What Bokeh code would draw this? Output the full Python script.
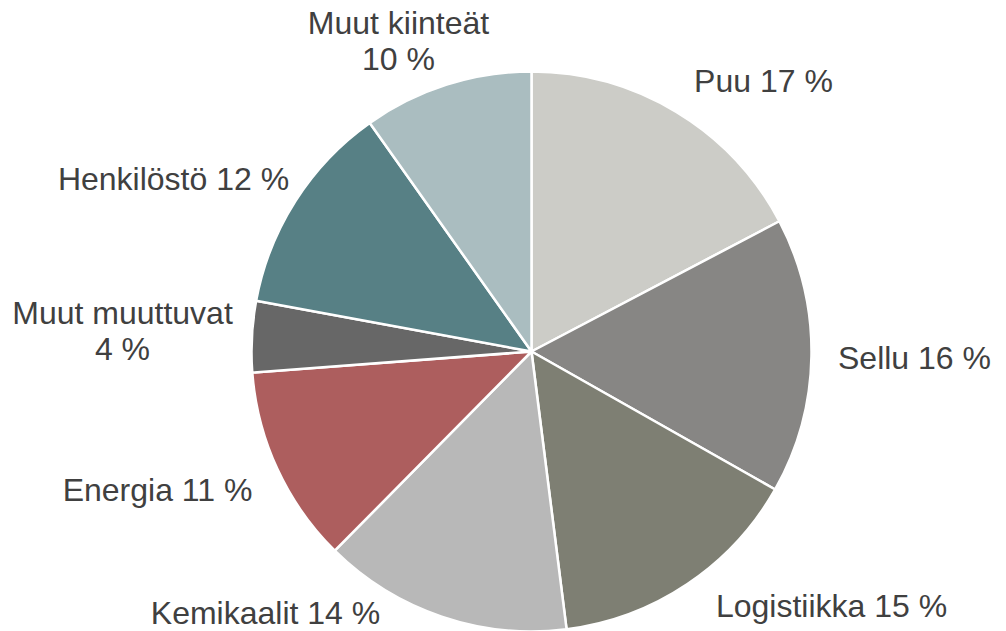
import math
from bokeh.plotting import figure
from bokeh.models import Range1d, ColumnDataSource
from bokeh.core.properties import value
from bokeh.embed import file_html
from bokeh.resources import INLINE

# ---- data ----
categories = ["Puu", "Sellu", "Logistiikka", "Kemikaalit", "Energia",
              "Muut muuttuvat", "Henkilöstö", "Muut kiinteät"]
shares = [17.3, 15.9, 14.8, 14.4, 11.4, 4.1, 12.3, 9.8]
labels = ["Puu 17 %", "Sellu 16 %", "Logistiikka 15 %", "Kemikaalit 14 %",
          "Energia 11 %", "Muut muuttuvat\n4 %", "Henkilöstö 12 %",
          "Muut kiinteät\n10 %"]
colors = ["#CCCCC7", "#878684", "#7E7F73", "#B8B8B8", "#AD5E5E",
          "#676767", "#578085", "#AABDC0"]

# ---- layout (image-pixel coordinates) ----
W, H = 1006, 631
cx, cy_img, R = 531, 351, 280
label_x = [763, 914, 831, 265, 157, 122, 173, 398]
label_base_img = [91, 368, 616, 623, 500, 323, 189, 33]
BASE_SHIFT = -11

def ydat(y_img):
    return H - y_img

total = sum(shares)
starts, ends = [], []
cum = 0.0
for s in shares:
    starts.append(math.pi / 2 - 2 * math.pi * cum / total)
    cum += s
    ends.append(math.pi / 2 - 2 * math.pi * cum / total)

src = ColumnDataSource(dict(cat=categories, start=starts, end=ends, color=colors,
                            x=[cx] * len(shares), y=[ydat(cy_img)] * len(shares)))

p = figure(width=W, height=H, output_backend="svg", toolbar_location=None,
           x_range=Range1d(0, W), y_range=Range1d(0, H),
           min_border=0)
p.axis.visible = False
p.grid.visible = False
p.outline_line_color = None
p.background_fill_color = "white"
p.border_fill_color = "white"

p.wedge(x="x", y="y", radius=R, start_angle="start", end_angle="end",
        direction="clock", fill_color="color", line_color="white",
        line_width=2.5, source=src)

lx, ly, lt = [], [], []
for t, x, yb in zip(labels, label_x, label_base_img):
    lines = t.split("\n")
    for i, ln in enumerate(lines):
        lx.append(x)
        ly.append(ydat(yb + BASE_SHIFT + 36 * i))
        lt.append(ln)

p.text(x=lx, y=ly, text=lt, text_align="center", text_baseline="alphabetic",
       text_font=value("Liberation Sans"), text_font_size="32px",
       text_color="#404040")

open("out.html", "w").write(file_html(p, INLINE))
